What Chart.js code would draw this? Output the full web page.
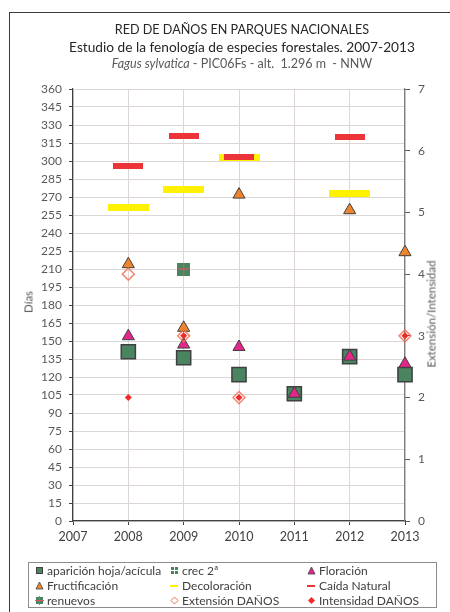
<!DOCTYPE html>
<html>
<head>
<meta charset="utf-8">
<script src="https://cdn.jsdelivr.net/npm/chart.js@4"></script>
<style>
  body { margin: 0; background: #fff; font-family: Lato, sans-serif; }
  #wrap { position: relative; width: 450px; height: 612px; overflow: hidden; background: #fff; }
  #frame { position: absolute; left: 9px; top: 12px; width: 470px; height: 640px; border-left: 1px solid #3a3a3a; border-top: 1px solid #3a3a3a; }
  #chart { position: absolute; left: 0; top: 0; }
  .t { position: absolute; left: 0; width: 484px; text-align: center; white-space: nowrap; color: #262626; }
  .axt { position: absolute; white-space: nowrap; color: #595959; font-size: 11.5px; transform: translate(-50%, -50%) rotate(-90deg); }
  #legend { position: absolute; left: 28px; top: 562px; width: 409px; height: 46px; border: 1px solid #8c8c8c; box-sizing: border-box; }
  .li { position: absolute; font-size: 12px; color: #404040; white-space: nowrap; line-height: 14px; }
  .li canvas { position: absolute; top: 2px; }
</style>
</head>
<body>
<div id="wrap">
  <div id="frame"></div>
  <canvas id="chart" width="450" height="612"></canvas>
  <div class="t" style="top:22px;font-size:12.6px;">RED DE DAÑOS EN PARQUES NACIONALES</div>
  <div class="t" style="top:38px;font-size:13.7px;">Estudio de la fenología de especies forestales. 2007-2013</div>
  <div class="t" style="top:56px;font-size:12.5px;color:#595959;"><i>Fagus sylvatica</i> - PIC06Fs - alt.&nbsp; 1.296 m&nbsp; - NNW</div>
  <div class="axt" style="left:28px;top:302px;">Días</div>
  <div class="axt" style="left:431px;top:314px;">Extensión/Intensidad</div>
  <div id="legend"></div>
</div>
<script>
// data
const years = [2008, 2009, 2010, 2011, 2012, 2013];
const aparicion = [141, 136, 122, 106, 137, 122];
const crec2 = [null, 210, null, null, null, null];
const floracion = [154, 147, 145, 106, 137, 131];
const fructificacion = [214, 161, 272, null, 259, 224];
const decoloracion = [261, 276, 303, null, 273, null];
const caida = [296, 321, 303, null, 320, null];
const renuevos = [null, 210, null, null, null, null];
const extension = [4, 3, 2, null, null, 3];
const intensidad = [2, 3, 2, null, null, 3];

const dayTicks = { min: 0, max: 360, step: 15 };
const extTicks = { min: 0, max: 7, step: 1 };
const yearTicks = { min: 2007, max: 2013, step: 1 };

const green = '#4b8461';
const magenta = '#e3268a';
const orange = '#f0842c';
const yellow = '#fff200';
const red = '#ec3338';
const edge = '#404040';

function mk(w, h, draw) {
  const c = document.createElement('canvas');
  c.width = w; c.height = h;
  draw(c.getContext('2d'), w, h);
  return c;
}

const yellowBar = mk(41, 7, (g, w, h) => { g.fillStyle = yellow; g.fillRect(0, 0, w, h); });
const redBar = mk(30, 6, (g, w, h) => { g.fillStyle = red; g.fillRect(0, 0, w, h); });
const crecSq = mk(13, 13, (g, w, h) => {
  g.fillStyle = green; g.fillRect(0, 0, w, h);
  g.fillStyle = '#fff'; g.fillRect(6, 0, 1, h); g.fillRect(0, 6, w, 1);
});
const renuevoSq = mk(13, 13, (g, w, h) => {
  g.fillStyle = green; g.fillRect(0, 0, w, h);
  g.fillStyle = '#e8505a'; g.fillRect(6, 0, 1, h); g.fillRect(0, 6, w, 1);
});

const pts = arr => years.map((y, i) => ({ x: y, y: arr[i] })).filter(p => p.y !== null);

function ds(label, arr, style, axis) {
  return Object.assign({
    label: label,
    data: pts(arr),
    yAxisID: axis || 'y',
    showLine: false,
    clip: false
  }, style);
}

// first dataset is drawn on top
const datasets = [
  ds('Intensidad DAÑOS', intensidad, { pointStyle: 'rectRot', pointRadius: 3.5, backgroundColor: '#ee2a2a', borderColor: '#ee2a2a', borderWidth: 0 }, 'y1'),
  ds('Extensión DAÑOS', extension, { pointStyle: 'rectRot', pointRadius: 6, backgroundColor: 'rgba(255,255,255,0)', borderColor: 'rgba(240,110,80,0.8)', borderWidth: 1.5 }, 'y1'),
  ds('Caída Natural', caida, { pointStyle: redBar, pointRadius: 5 }),
  ds('Decoloración', decoloracion, { pointStyle: yellowBar, pointRadius: 5 }),
  ds('Floración', floracion, { pointStyle: 'triangle', pointRadius: 7, backgroundColor: magenta, borderColor: edge, borderWidth: 1 }),
  ds('Fructificación', fructificacion, { pointStyle: 'triangle', pointRadius: 7, backgroundColor: orange, borderColor: edge, borderWidth: 1 }),
  ds('renuevos', renuevos, { pointStyle: renuevoSq, pointRadius: 5 }),
  ds('crec 2ª', crec2, { pointStyle: crecSq, pointRadius: 5 }),
  ds('aparición hoja/acícula', aparicion, { pointStyle: 'rect', pointRadius: 10, backgroundColor: green, borderColor: edge, borderWidth: 1.5 })
];

const tickFont = { family: 'Lato', size: 12 };

new Chart(document.getElementById('chart'), {
  type: 'scatter',
  data: { datasets: datasets },
  options: {
    responsive: false,
    animation: false,
    layout: { padding: { top: 89, left: 0, right: 0, bottom: 0 } },
    plugins: { legend: { display: false }, tooltip: { enabled: false } },
    scales: {
      x: {
        type: 'linear', min: yearTicks.min, max: yearTicks.max,
        ticks: { stepSize: yearTicks.step, callback: v => String(v), color: '#404040', font: { family: 'Lato', size: 12.5 }, padding: 4, maxRotation: 0 },
        grid: { color: '#dcd6d6', lineWidth: 1, tickColor: '#404040', tickLength: 4 },
        border: { color: '#404040', width: 1.2 },
        afterFit: s => { s.height = 91; }
      },
      y: {
        position: 'left', min: dayTicks.min, max: dayTicks.max,
        ticks: { stepSize: dayTicks.step, color: '#595959', font: tickFont, padding: 7 },
        grid: { color: '#dcd6d6', lineWidth: 1, tickColor: '#404040', tickLength: 4 },
        border: { color: '#404040', width: 1.2 },
        afterFit: s => { s.width = 73; }
      },
      y1: {
        position: 'right', min: extTicks.min, max: extTicks.max,
        ticks: { stepSize: extTicks.step, color: '#595959', font: { family: 'Lato', size: 12 }, padding: 8 },
        grid: { drawOnChartArea: false, tickColor: '#595959', tickLength: 5 },
        border: { color: '#7f7f7f', width: 1.2 },
        afterFit: s => { s.width = 45; }
      }
    }
  }
});

// legend
const legendItems = [
  ['aparición hoja/acícula', 'sq'], ['crec 2ª', 'crec'], ['Floración', 'triM'],
  ['Fructificación', 'triO'], ['Decoloración', 'lineY'], ['Caída Natural', 'lineR'],
  ['renuevos', 'ren'], ['Extensión DAÑOS', 'dia'], ['Intensidad DAÑOS', 'diaF']
];
const colX = [6, 141, 278];
const rowY = [1, 16, 31];

function legendMarker(kind) {
  return mk(9, 9, (g) => {
    if (kind === 'sq') { g.fillStyle = edge; g.fillRect(1, 1, 7, 7); g.fillStyle = green; g.fillRect(2, 2, 5, 5); }
    if (kind === 'crec') { g.fillStyle = green; g.fillRect(1, 1, 7, 7); g.fillStyle = '#fff'; g.fillRect(4, 1, 1, 7); g.fillRect(1, 4, 7, 1); }
    if (kind === 'ren') { g.fillStyle = green; g.fillRect(1, 1, 7, 7); g.fillStyle = '#e8505a'; g.fillRect(4, 0, 1, 9); g.fillRect(0, 4, 9, 1); }
    if (kind === 'triM' || kind === 'triO') {
      g.beginPath(); g.moveTo(4.5, 1); g.lineTo(8, 8); g.lineTo(1, 8); g.closePath();
      g.fillStyle = kind === 'triM' ? magenta : orange; g.fill();
      g.strokeStyle = edge; g.lineWidth = 0.8; g.stroke();
    }
    if (kind === 'lineY') { g.fillStyle = yellow; g.fillRect(0, 4, 8, 2); }
    if (kind === 'lineR') { g.fillStyle = red; g.fillRect(0, 4, 8, 2); }
    if (kind === 'dia' || kind === 'diaF') {
      g.beginPath(); g.moveTo(4.5, 1); g.lineTo(8, 4.5); g.lineTo(4.5, 8); g.lineTo(1, 4.5); g.closePath();
      if (kind === 'diaF') { g.fillStyle = '#ee2a2a'; g.fill(); }
      else { g.strokeStyle = '#f06e50'; g.lineWidth = 1; g.stroke(); }
    }
  });
}

const legend = document.getElementById('legend');
legendItems.forEach((it, i) => {
  const el = document.createElement('div');
  el.className = 'li';
  el.style.left = colX[i % 3] + 'px';
  el.style.top = rowY[Math.floor(i / 3)] + 'px';
  el.style.paddingLeft = '12px';
  const c = legendMarker(it[1]);
  c.style.left = '0px';
  el.appendChild(c);
  el.appendChild(document.createTextNode(it[0]));
  legend.appendChild(el);
});
</script>
</body>
</html>
